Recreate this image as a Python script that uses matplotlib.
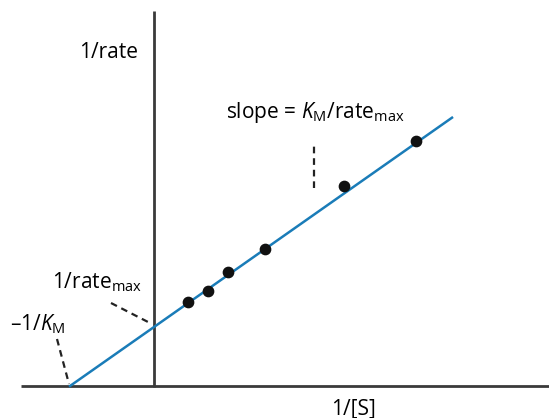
import matplotlib.pyplot as plt
import numpy as np

# data (arbitrary units, origin where the axes cross)
inv_s = [0.34, 0.54, 0.74, 1.11, 1.90, 2.62]
inv_rate = [0.84, 0.95, 1.14, 1.37, 2.00, 2.45]
neg_inv_km = -0.84
inv_rate_max = 0.59
fit_end = 2.98

slope = inv_rate_max / -neg_inv_km

font = 'Open Sans'
plt.rcParams['mathtext.fontset'] = 'custom'
plt.rcParams['mathtext.rm'] = font
plt.rcParams['mathtext.it'] = font + ':italic'

fig = plt.figure(figsize=(5.49, 4.18), dpi=100)
ax = fig.add_axes([0, 0, 1, 1])
ax.set_xlim(-1.54, 3.95)
ax.set_ylim(-0.32, 3.86)
ax.axis('off')

axis_col = '#3a3a3a'
# axes
ax.plot([-1.33, 3.95], [0, 0], color=axis_col, lw=2, solid_capstyle='butt')
ax.plot([0, 0], [-0.01, 3.75], color=axis_col, lw=2, solid_capstyle='butt')

# fitted line
xs = np.array([neg_inv_km, fit_end])
ax.plot(xs, inv_rate_max + slope * xs, color='#1a7cb8', lw=1.8, zorder=3)
ax.scatter(inv_s, inv_rate, s=55, color='#111111', zorder=4)

# dashed leaders
ax.plot([1.60, 1.60], [1.98, 2.44], color='#222222', lw=1.6, ls=(0, (3, 2.2)))
ax.plot([-0.43, -0.04], [0.83, 0.63], color='#222222', lw=1.6, ls=(0, (3, 2.2)))
ax.plot([-0.97, -0.85], [0.47, 0.02], color='#222222', lw=1.6, ls=(0, (3, 2.2)))

fs = 15
ax.text(-0.45, 3.33, '1/rate', fontsize=fs, family=font, ha='center', va='center')
ax.text(0.72, 2.73, r'slope = $\mathit{K}_{\mathrm{M}}$/rate$_{\mathrm{max}}$',
        fontsize=fs, family=font, ha='left', va='center')
ax.text(-1.02, 1.04, r'1/rate$_{\mathrm{max}}$', fontsize=fs, family=font,
        ha='left', va='center')
ax.text(-1.44, 0.62, '\u20131/$\\mathit{K}_{\\mathrm{M}}$', fontsize=fs, family=font,
        ha='left', va='center')
ax.text(1.99, -0.23, '1/[S]', fontsize=fs, family=font, ha='center', va='center')

fig.savefig('out.png', dpi=100)
